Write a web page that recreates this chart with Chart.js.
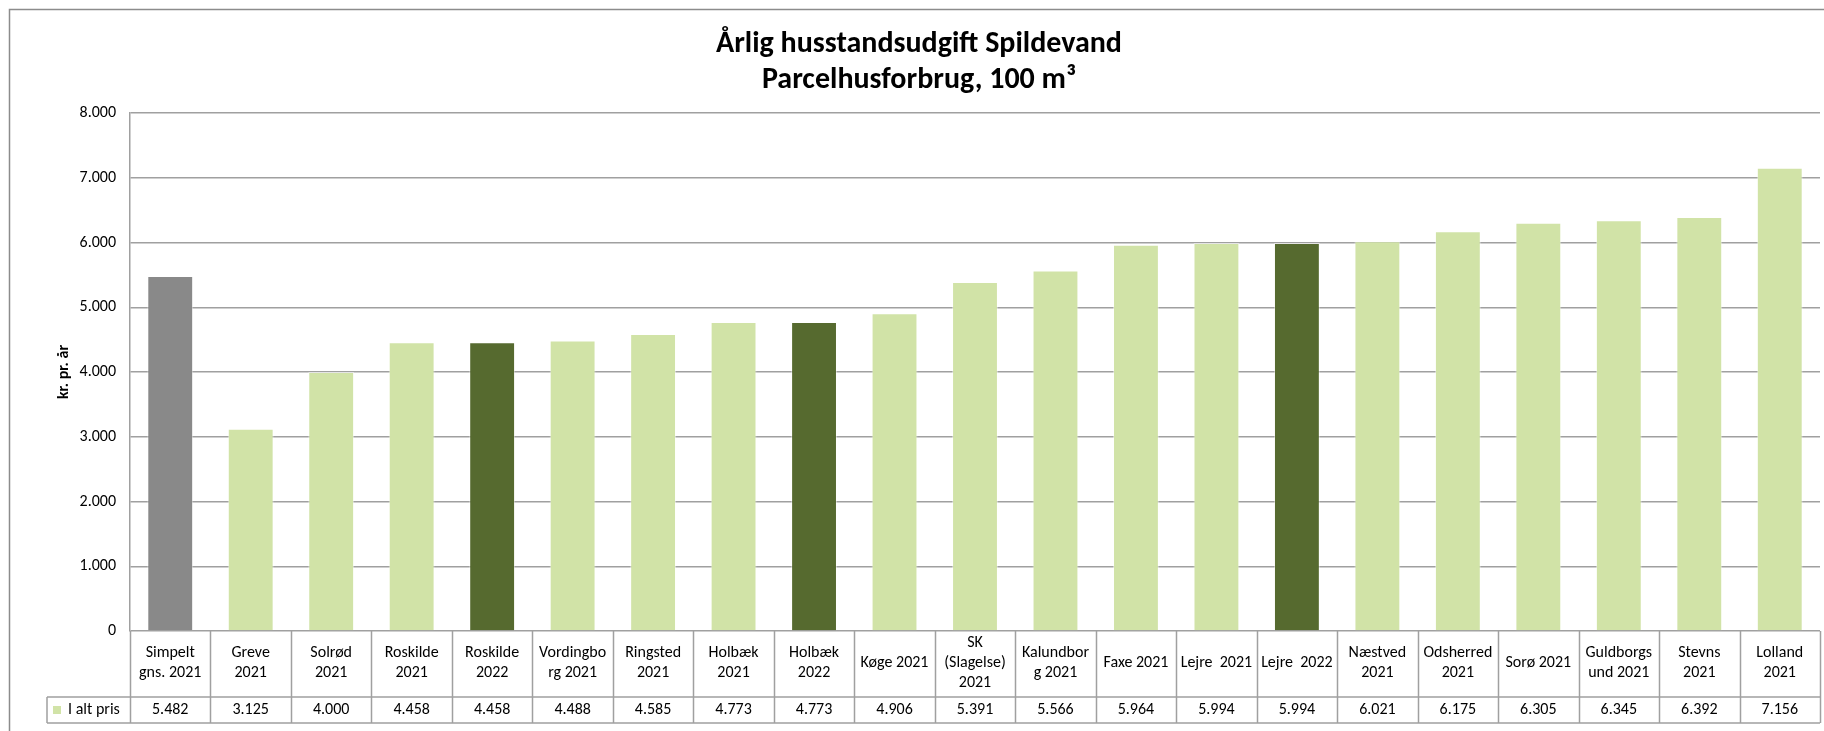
<!DOCTYPE html>
<html>
<head>
<meta charset="utf-8">
<script src="https://cdn.jsdelivr.net/npm/chart.js@4"></script>
<style>
  html, body { margin: 0; padding: 0; background: #fff; }
</style>
</head>
<body>
<canvas id="chart" width="1824" height="731"></canvas>
<script>
// Data
const categories = [
  ['Simpelt', 'gns. 2021'], ['Greve', '2021'], ['Solrød', '2021'], ['Roskilde', '2021'],
  ['Roskilde', '2022'], ['Vordingbo', 'rg 2021'], ['Ringsted', '2021'], ['Holbæk', '2021'],
  ['Holbæk', '2022'], 'Køge 2021', ['SK', '(Slagelse)', '2021'], ['Kalundbor', 'g 2021'],
  'Faxe 2021', 'Lejre  2021', 'Lejre  2022', ['Næstved', '2021'], ['Odsherred', '2021'],
  'Sorø 2021', ['Guldborgs', 'und 2021'], ['Stevns', '2021'], ['Lolland', '2021']
];
const prices = [5482, 3125, 4000, 4458, 4458, 4488, 4585, 4773, 4773, 4906, 5391,
  5566, 5964, 5994, 5994, 6021, 6175, 6305, 6345, 6392, 7156];
const seriesName = 'I alt pris';
const yTicks = [0, 1000, 2000, 3000, 4000, 5000, 6000, 7000, 8000];

const FONT = 'Carlito, Calibri, Lato, sans-serif';
const LIGHT = '#d1e3a7';
const DARK = '#566a2f';
const GREY = '#898989';
const LINE = '#a0a0a0';

// 5482 -> "5.482"
const fmt = n => String(n).replace(/\B(?=(\d{3})+(?!\d))/g, '.');

const barColors = categories.map(c => {
  const s = [].concat(c).join(' ');
  if (s.includes('gns.')) return GREY;
  if (s.includes('2022')) return DARK;
  return LIGHT;
});

// Excel style data table under the x axis + outer frame
const dataTable = {
  id: 'dataTable',
  afterDraw(chart) {
    const ctx = chart.ctx;
    const x = chart.scales.x;
    const half = (x.getPixelForValue(1) - x.getPixelForValue(0)) / 2;
    const top = x.top;
    const mid = top + 66;
    const bottom = top + 92;
    const legendLeft = 47;
    const right = x.getPixelForValue(prices.length - 1) + half;

    ctx.save();
    ctx.strokeStyle = LINE;
    ctx.lineWidth = 1.5;
    ctx.beginPath();
    for (let i = 0; i <= prices.length; i++) {
      const px = Math.round(x.getPixelForValue(i) - half) + 0.5;
      ctx.moveTo(px, top);
      ctx.lineTo(px, bottom);
    }
    ctx.moveTo(legendLeft, mid); ctx.lineTo(right, mid);
    ctx.moveTo(legendLeft, bottom); ctx.lineTo(right, bottom);
    ctx.moveTo(legendLeft, mid); ctx.lineTo(legendLeft, bottom);
    ctx.stroke();

    // values row
    ctx.fillStyle = '#000';
    ctx.font = '16px ' + FONT;
    ctx.textAlign = 'center';
    ctx.textBaseline = 'middle';
    const vy = (mid + bottom) / 2;
    prices.forEach((v, i) => ctx.fillText(fmt(v), x.getPixelForValue(i), vy));

    // legend key
    ctx.fillStyle = LIGHT;
    ctx.fillRect(53, vy - 4, 8, 8);
    ctx.fillStyle = '#000';
    ctx.textAlign = 'left';
    ctx.fillText(seriesName, 68, vy);

    // chart frame (right/bottom edges fall outside the picture)
    ctx.strokeStyle = '#8c8c8c';
    ctx.lineWidth = 1.5;
    ctx.strokeRect(9.5, 9.5, 1900, 900);
    ctx.restore();
  }
};

new Chart(document.getElementById('chart'), {
  type: 'bar',
  data: {
    labels: categories,
    datasets: [{
      label: seriesName,
      data: prices,
      backgroundColor: barColors,
      borderColor: 'rgba(255,255,255,0.45)',
      borderWidth: 1,
      categoryPercentage: 0.57,
      barPercentage: 1
    }]
  },
  options: {
    responsive: false,
    animation: false,
    layout: { padding: { left: 18, right: 4, top: 0, bottom: 0 } },
    plugins: {
      legend: { display: false },
      tooltip: { enabled: false },
      title: {
        display: true,
        text: ['Årlig husstandsudgift Spildevand', 'Parcelhusforbrug, 100 m³'],
        color: '#000',
        font: { family: FONT, size: 30, weight: 'bold', lineHeight: 1.2 },
        padding: { top: 26, bottom: 15 }
      }
    },
    scales: {
      x: {
        grid: { display: false },
        border: { display: false },
        ticks: {
          color: '#000',
          font: { family: FONT, size: 16, lineHeight: 1.25 },
          autoSkip: false,
          maxRotation: 0,
          minRotation: 0,
          crossAlign: 'center',
          padding: 4
        },
        afterFit(scale) { scale.height = 100; }
      },
      y: {
        min: 0,
        max: 8000,
        afterBuildTicks(scale) { scale.ticks = yTicks.map(v => ({ value: v })); },
        grid: { color: LINE, lineWidth: 1.5, drawTicks: false },
        border: { display: true, color: LINE, width: 1.5 },
        ticks: {
          color: '#000',
          font: { family: FONT, size: 16 },
          padding: 14,
          callback: v => fmt(v)
        },
        title: {
          display: true,
          text: 'kr. pr. år',
          color: '#000',
          font: { family: FONT, size: 16, weight: 'bold' },
          padding: { top: 36, bottom: 0 }
        },
        afterFit(scale) { scale.width = 112; }
      }
    }
  },
  plugins: [dataTable]
});
</script>
</body>
</html>
